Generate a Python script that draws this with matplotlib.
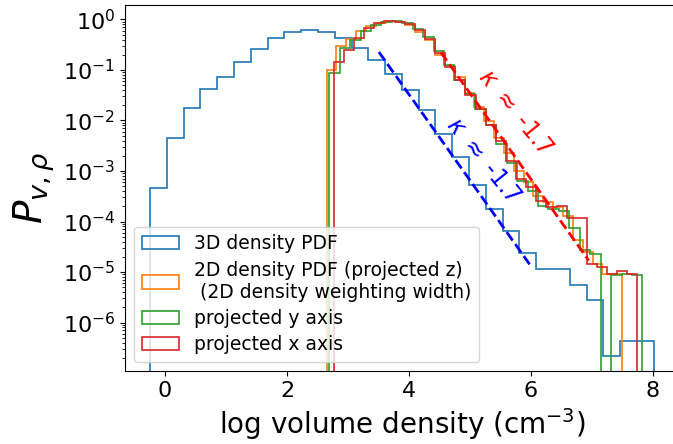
import numpy as np
import matplotlib
matplotlib.use("Agg")
import matplotlib.pyplot as plt

# ---------------- data ----------------
# 3D density PDF: 30 bins
blue_range = (-0.246, 8.016)
blue_log = [-3.33, -2.35, -1.76, -1.375, -1.13, -0.845, -0.59, -0.37, -0.247, -0.21,
            -0.247, -0.36, -0.566, -0.81, -1.076, -1.394, -1.787, -2.26, -2.72, -3.27,
            -3.75, -4.18, -4.63, -4.94, -4.93, -5.25, -5.56, -6.67, -6.37, -6.37]

# 2D density PDF (projected z): 30 bins
orange_range = (2.651, 7.497)
orange_ypx = [70, 46, 39, 31, 26, 22.5, 21, 22, 25, 32,
              40, 55, 66, 77, 92, 106, 120, 137, 152, 170,
              181, 195, 201, 206, 215, 238, 250, 262, 272, 272]

# projected y axis: 30 bins (bin 26 empty)
green_range = (2.693, 7.83)
green_ypx = [73, 48, 40, 31, 25, 22, 21, 23, 29, 37,
             51, 65, 79, 93, 108, 124, 143, 162, 180, 190,
             205, 208, 210, 227, 248, 252, None, 273, 272, 273]

# projected x axis: 30 bins
red_range = (2.770, 7.749)
red_ypx = [62, 50, 38, 28, 23, 21, 21.5, 24, 30, 39,
           53, 67, 79, 94, 108, 124, 140, 160, 178, 186,
           200, 206, 205, 217, 217, 262, 265, 272, 269, 272]

# power-law guides, slope kappa = -1.7
kappa = -1.7
blue_fit_x = (3.508, 5.98)
blue_fit_log0 = -0.645
red_fit_x = (4.525, 6.95)
red_fit_log0 = -0.651

labels = ["3D density PDF",
          "2D density PDF (projected z)\n (2D density weighting width)",
          "projected y axis",
          "projected x axis"]

# reading scale of the reference picture (pixel -> log10 value)
Y0_PX, PX_PER_DEC = 19.3, 50.2


def px_to_val(lst):
    out = []
    for v in lst:
        out.append(0.0 if v is None else 10 ** (-(v - Y0_PX) / PX_PER_DEC))
    return np.array(out)


blue_vals = 10 ** np.array(blue_log)
orange_vals = px_to_val(orange_ypx)
green_vals = px_to_val(green_ypx)
red_vals = px_to_val(red_ypx)

# ---------------- figure ----------------
fig = plt.figure(figsize=(6.73, 4.44), dpi=100)
ax = fig.add_axes([125 / 673, 1 - 371 / 444, (679 - 125) / 673, (371 - 5) / 444])
ax.set_yscale("log")

series = [(blue_range, blue_vals, "C0"),
          (orange_range, orange_vals, "C1"),
          (green_range, green_vals, "C2"),
          (red_range, red_vals, "C3")]
for (rng, vals, col), lab in zip(series, labels):
    edges = np.linspace(rng[0], rng[1], len(vals) + 1)
    ax.hist(edges[:-1], bins=edges, weights=vals, histtype="step",
            color=col, label=lab, linewidth=1.2)

for (x0, x1), l0, col in [(blue_fit_x, blue_fit_log0, "b"),
                          (red_fit_x, red_fit_log0, "r")]:
    xs = np.array([x0, x1])
    ys = 10 ** (l0 + kappa * (xs - x0))
    ax.plot(xs, ys, "--", color=col, linewidth=2)

ax.text(5.75, 10 ** -1.83, r"$\kappa$ $\approx$ -1.7", color="r", fontsize=17,
        rotation=-51, ha="center", va="center", rotation_mode="anchor")
ax.text(5.21, 10 ** -2.78, r"$\kappa$ $\approx$ -1.7", color="b", fontsize=17,
        rotation=-51, ha="center", va="center", rotation_mode="anchor")

ax.set_xlim(-0.656, 8.43)
ax.set_ylim(1.1e-7, 1.93)
ax.set_xticks([0, 2, 4, 6, 8])
ax.tick_params(axis="both", which="major", labelsize=16)
ax.set_xlabel(r"log volume density (cm$^{-3}$)", fontsize=20)
ax.set_ylabel(r"$P_{v,\rho}$", fontsize=28)
ax.legend(loc="lower left", fontsize=13.5, labelspacing=0.39)

fig.savefig("out.png", dpi=100)
